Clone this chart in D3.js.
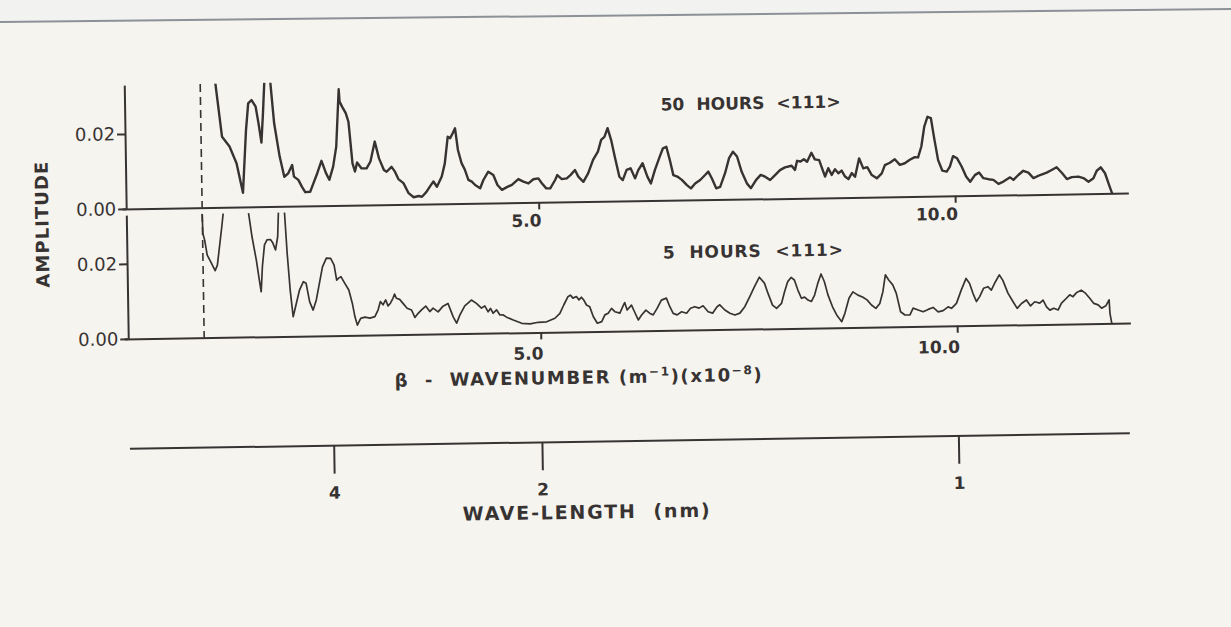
<!DOCTYPE html>
<html><head><meta charset="utf-8">
<script src="https://cdn.jsdelivr.net/npm/d3@7"></script>
<style>html,body{margin:0;padding:0;background:#f6f4ef;}svg{display:block;}</style>
</head><body>
<svg id="chart" width="1231" height="627"></svg>
<script>
// ---------- DATA ----------
// [wavenumber beta (x1e8 m^-1), amplitude]
const hours50 = [[1.108,0.040],[1.212,0.0188],[1.300,0.0162],[1.381,0.0117],[1.453,0.0038],[1.501,0.0205],[1.532,0.0276],[1.573,0.0285],[1.621,0.0267],[1.652,0.0223],[1.684,0.0171],[1.708,0.0250],[1.760,0.045],[1.840,0.0222],[1.900,0.0133],[1.952,0.0079],[2.000,0.0088],[2.048,0.0110],[2.068,0.0079],[2.120,0.0070],[2.161,0.0052],[2.200,0.0037],[2.260,0.0038],[2.300,0.0060],[2.348,0.0087],[2.401,0.0120],[2.453,0.0087],[2.492,0.0069],[2.540,0.0104],[2.581,0.0157],[2.621,0.0310],[2.629,0.0277],[2.660,0.0263],[2.701,0.0246],[2.732,0.0223],[2.773,0.0112],[2.801,0.0090],[2.828,0.0114],[2.881,0.0098],[2.941,0.0098],[2.989,0.0116],[3.044,0.0169],[3.092,0.0124],[3.149,0.0093],[3.181,0.0088],[3.241,0.0101],[3.281,0.0088],[3.321,0.0068],[3.381,0.0057],[3.441,0.0030],[3.501,0.0019],[3.561,0.0022],[3.601,0.0020],[3.653,0.0032],[3.701,0.0048],[3.741,0.0060],[3.782,0.0046],[3.842,0.0073],[3.881,0.0108],[3.921,0.0179],[3.950,0.0175],[3.981,0.0188],[4.010,0.0201],[4.041,0.0143],[4.082,0.0108],[4.121,0.0090],[4.161,0.0063],[4.202,0.0058],[4.241,0.0049],[4.301,0.0040],[4.341,0.0062],[4.401,0.0084],[4.461,0.0075],[4.509,0.0048],[4.562,0.0035],[4.622,0.0042],[4.682,0.0048],[4.761,0.0063],[4.821,0.0056],[4.881,0.0051],[4.941,0.0062],[5.001,0.0064],[5.042,0.0051],[5.094,0.0037],[5.142,0.0037],[5.202,0.0059],[5.229,0.0072],[5.282,0.0061],[5.342,0.0063],[5.390,0.0072],[5.442,0.0085],[5.481,0.0067],[5.541,0.0053],[5.601,0.0076],[5.661,0.0111],[5.721,0.0133],[5.762,0.0164],[5.802,0.0172],[5.841,0.0195],[5.882,0.0163],[5.922,0.0119],[5.974,0.0065],[6.014,0.0056],[6.062,0.0083],[6.110,0.0087],[6.162,0.0060],[6.202,0.0082],[6.255,0.0100],[6.310,0.0064],[6.351,0.0046],[6.402,0.0082],[6.462,0.0117],[6.502,0.0139],[6.543,0.0143],[6.582,0.0108],[6.622,0.0067],[6.670,0.0063],[6.723,0.0054],[6.783,0.0040],[6.831,0.0031],[6.882,0.0044],[6.943,0.0053],[7.003,0.0066],[7.042,0.0075],[7.083,0.0057],[7.134,0.0030],[7.182,0.0034],[7.243,0.0070],[7.294,0.0110],[7.342,0.0127],[7.390,0.0114],[7.443,0.0073],[7.503,0.0042],[7.551,0.0029],[7.615,0.0051],[7.671,0.0064],[7.723,0.0059],[7.783,0.0050],[7.843,0.0063],[7.903,0.0076],[7.963,0.0083],[8.043,0.0087],[8.083,0.0076],[8.110,0.0100],[8.151,0.0098],[8.191,0.0104],[8.230,0.0097],[8.283,0.0121],[8.323,0.0103],[8.375,0.0101],[8.415,0.0075],[8.443,0.0057],[8.483,0.0079],[8.523,0.0061],[8.563,0.0076],[8.603,0.0065],[8.643,0.0072],[8.683,0.0056],[8.723,0.0049],[8.764,0.0065],[8.803,0.0055],[8.855,0.0104],[8.903,0.0077],[8.951,0.0080],[9.004,0.0059],[9.064,0.0050],[9.124,0.0063],[9.163,0.0085],[9.223,0.0091],[9.283,0.0100],[9.343,0.0085],[9.403,0.0089],[9.463,0.0098],[9.524,0.0105],[9.563,0.0104],[9.604,0.0133],[9.643,0.0186],[9.683,0.0212],[9.724,0.0208],[9.763,0.0150],[9.803,0.0096],[9.851,0.0068],[9.904,0.0065],[9.943,0.0078],[9.983,0.0106],[10.031,0.0100],[10.084,0.0078],[10.136,0.0051],[10.184,0.0037],[10.244,0.0055],[10.292,0.0061],[10.343,0.0046],[10.403,0.0043],[10.463,0.0041],[10.523,0.0030],[10.583,0.0036],[10.664,0.0047],[10.703,0.0040],[10.763,0.0053],[10.823,0.0064],[10.884,0.0059],[10.944,0.0044],[11.024,0.0052],[11.104,0.0058],[11.164,0.0065],[11.224,0.0072],[11.285,0.0057],[11.345,0.0040],[11.405,0.0045],[11.484,0.0046],[11.544,0.0042],[11.604,0.0032],[11.664,0.0041],[11.705,0.0061],[11.753,0.0070],[11.804,0.0054],[11.844,0.0027],[11.885,0.0000]];

const hours5 = [[0.958,0.0340],[0.964,0.0278],[0.984,0.0260],[1.012,0.0220],[1.053,0.0202],[1.104,0.0178],[1.132,0.0193],[1.161,0.0242],[1.192,0.0295],[1.357,0.060],[1.553,0.0267],[1.600,0.0205],[1.633,0.0151],[1.653,0.0120],[1.672,0.0187],[1.701,0.0245],[1.732,0.0258],[1.773,0.0259],[1.801,0.0250],[1.833,0.0231],[1.861,0.0266],[1.909,0.050],[1.972,0.0221],[2.001,0.0124],[2.032,0.0052],[2.073,0.0088],[2.113,0.0123],[2.161,0.0145],[2.193,0.0141],[2.233,0.0091],[2.273,0.0069],[2.313,0.0096],[2.353,0.0140],[2.393,0.0184],[2.441,0.0207],[2.493,0.0206],[2.533,0.0188],[2.561,0.0148],[2.585,0.0153],[2.613,0.0157],[2.653,0.0141],[2.705,0.0121],[2.745,0.0085],[2.773,0.0050],[2.801,0.0027],[2.842,0.0045],[2.893,0.0048],[2.953,0.0045],[3.013,0.0049],[3.053,0.0067],[3.082,0.0089],[3.113,0.0080],[3.145,0.0093],[3.173,0.0077],[3.202,0.0084],[3.233,0.0097],[3.253,0.0108],[3.274,0.0097],[3.313,0.0094],[3.353,0.0083],[3.401,0.0070],[3.454,0.0065],[3.493,0.0045],[3.533,0.0056],[3.574,0.0065],[3.625,0.0075],[3.673,0.0060],[3.713,0.0069],[3.773,0.0059],[3.833,0.0074],[3.893,0.0081],[3.953,0.0045],[3.993,0.0028],[4.034,0.0050],[4.094,0.0074],[4.174,0.0089],[4.234,0.0080],[4.294,0.0067],[4.334,0.0073],[4.373,0.0057],[4.402,0.0066],[4.433,0.0053],[4.474,0.0062],[4.514,0.0048],[4.553,0.0048],[4.594,0.0042],[4.673,0.0034],[4.774,0.0025],[4.874,0.0023],[4.974,0.0027],[5.074,0.0028],[5.174,0.0037],[5.234,0.0050],[5.282,0.0072],[5.334,0.0094],[5.363,0.0098],[5.394,0.0090],[5.435,0.0094],[5.466,0.0085],[5.495,0.0092],[5.522,0.0085],[5.555,0.0071],[5.594,0.0066],[5.634,0.0040],[5.682,0.0022],[5.735,0.0026],[5.774,0.0044],[5.814,0.0048],[5.855,0.0061],[5.894,0.0052],[5.954,0.0048],[5.994,0.0067],[6.014,0.0076],[6.042,0.0056],[6.095,0.0069],[6.134,0.0049],[6.174,0.0029],[6.215,0.0042],[6.267,0.0055],[6.315,0.0046],[6.354,0.0042],[6.402,0.0059],[6.455,0.0081],[6.515,0.0086],[6.555,0.0063],[6.594,0.0045],[6.642,0.0041],[6.695,0.0049],[6.755,0.0045],[6.803,0.0058],[6.855,0.0062],[6.906,0.0058],[6.954,0.0064],[7.014,0.0048],[7.067,0.0044],[7.122,0.0061],[7.155,0.0066],[7.215,0.0052],[7.275,0.0043],[7.335,0.0038],[7.395,0.0043],[7.455,0.0060],[7.515,0.0086],[7.575,0.0113],[7.635,0.0138],[7.695,0.0122],[7.735,0.0095],[7.788,0.0063],[7.836,0.0054],[7.896,0.0067],[7.935,0.0098],[7.975,0.0125],[8.016,0.0136],[8.055,0.0129],[8.095,0.0102],[8.136,0.0080],[8.175,0.0083],[8.215,0.0075],[8.256,0.0071],[8.295,0.0088],[8.335,0.0119],[8.376,0.0144],[8.415,0.0123],[8.455,0.0088],[8.508,0.0056],[8.556,0.0034],[8.616,0.0016],[8.655,0.0038],[8.707,0.0078],[8.755,0.0095],[8.815,0.0086],[8.875,0.0080],[8.923,0.0073],[8.976,0.0059],[9.028,0.0050],[9.076,0.0063],[9.115,0.0094],[9.148,0.0139],[9.187,0.0125],[9.235,0.0112],[9.276,0.0089],[9.324,0.0040],[9.376,0.0031],[9.436,0.0031],[9.475,0.0049],[9.535,0.0044],[9.595,0.0039],[9.655,0.0045],[9.715,0.0050],[9.775,0.0038],[9.835,0.0041],[9.895,0.0051],[9.936,0.0047],[9.996,0.0060],[10.056,0.0095],[10.116,0.0126],[10.156,0.0113],[10.196,0.0086],[10.236,0.0064],[10.276,0.0077],[10.324,0.0099],[10.376,0.0103],[10.417,0.0094],[10.468,0.0116],[10.516,0.0134],[10.556,0.0120],[10.616,0.0085],[10.676,0.0062],[10.724,0.0044],[10.777,0.0057],[10.837,0.0066],[10.885,0.0050],[10.936,0.0061],[10.996,0.0057],[11.036,0.0065],[11.077,0.0047],[11.116,0.0038],[11.164,0.0043],[11.216,0.0038],[11.257,0.0056],[11.317,0.0069],[11.357,0.0078],[11.396,0.0073],[11.437,0.0083],[11.497,0.0090],[11.549,0.0081],[11.597,0.0068],[11.645,0.0054],[11.697,0.0050],[11.737,0.0041],[11.789,0.0047],[11.829,0.0063],[11.837,0.0027],[11.857,0.0000]];

const ampTicks = [0, 0.02];
const betaTicks = [5, 10];
const waveTicks = [4, 2, 1];           // nm ; beta = 10 / lambda
const dashBeta = 0.96;
const panelTitles = ["50  HOURS  <111>", "5  HOURS  <111>"];
const yLabel = "AMPLITUDE";
const xLabel = "WAVE-LENGTH  (nm)";

// ---------- LAYOUT ----------
const ink = "#383333";
const svg = d3.select("#chart");
svg.append("rect").attr("width",1231).attr("height",627).attr("fill","#f6f4ef");
svg.append("path").attr("d","M0,0H1231V9L0,22Z").attr("fill","#f2f2f1");
svg.append("line").attr("x1",0).attr("y1",22).attr("x2",1231).attr("y2",9)
  .attr("stroke","#8c9197").attr("stroke-width",2);

const g = svg.append("g").attr("transform","rotate(-0.9,628,320)");

const x = d3.scaleLinear().domain([0, 12.08]).range([124, 124 + 83.3*12.08]);
const pxPerUnit = 3750;
const yTop = d3.scaleLinear().domain([0, 0.033]).range([201, 201 - 0.033*pxPerUnit]);
const yBot = d3.scaleLinear().domain([0, 0.033]).range([331, 331 - 0.033*pxPerUnit]);
const yAxisX = 128;
const FONT = "DejaVu Sans, Liberation Sans, sans-serif";

function fit(sel, target){
  const n = sel.node();
  const w = n.getComputedTextLength();
  const c = n.textContent.length;
  if (c > 1) sel.attr("letter-spacing", (target - w)/(c - 1));
}

function panel(y, data, title, titleY, sw, labY, id){
  const pg = g.append("g");
  pg.append("clipPath").attr("id", id).append("rect")
    .attr("x", x(0)).attr("y", y(0.033)).attr("width", x(12.08)-x(0)+4).attr("height", y(0)-y(0.033)+1);

  // x axis
  const xa = pg.append("g").attr("transform", `translate(0,${y(0)})`)
    .call(d3.axisBottom(x).tickValues(betaTicks).tickFormat(d3.format(".1f")).tickSize(7).tickSizeOuter(0));
  xa.select(".domain").attr("stroke", ink).attr("stroke-width", 2);
  xa.selectAll(".tick line").attr("stroke", ink).attr("stroke-width", 2);
  xa.selectAll(".tick text").attr("text-anchor","end").attr("x", 2).attr("y", labY).attr("dy","0.71em")
    .attr("fill", ink).style("font-family",FONT).style("font-size","17px").style("font-weight","bold");

  // y axis
  const ya = pg.append("g").attr("transform", `translate(${yAxisX},0)`)
    .call(d3.axisLeft(y).tickValues(ampTicks).tickFormat(d3.format(".2f")).tickSize(8).tickPadding(2).tickSizeOuter(0));
  ya.select(".domain").attr("stroke", ink).attr("stroke-width", 2);
  ya.selectAll(".tick line").attr("stroke", ink).attr("stroke-width", 2);
  ya.selectAll(".tick text").attr("fill", ink)
    .style("font-family",FONT).style("font-size","18px");

  // dashed marker
  pg.append("line").attr("x1", x(dashBeta)).attr("x2", x(dashBeta))
    .attr("y1", y(0.033)).attr("y2", y(0))
    .attr("stroke", ink).attr("stroke-width", 1.6).attr("stroke-dasharray","8,5");

  // curve
  const line = d3.line().x(d => x(d[0])).y(d => y(d[1]));
  pg.append("path").datum(data).attr("d", line).attr("clip-path", `url(#${id})`)
    .attr("fill","none").attr("stroke", ink).attr("stroke-width", sw)
    .attr("stroke-linejoin","round").attr("stroke-linecap","round");

  // title
  const t = pg.append("text").attr("x", 664).attr("y", titleY).attr("xml:space","preserve").text(title)
    .attr("fill", ink).style("font-family",FONT)
    .style("font-size","17px").style("font-weight","bold");
  fit(t, 180);
}

panel(yTop, hours50, panelTitles[0], 111, 2.4, 12, "clipTop");
panel(yBot, hours5, panelTitles[1], 259, 1.7, 15, "clipBot");

// amplitude label
const al = g.append("text").attr("transform","translate(50,215) rotate(-90)")
  .attr("text-anchor","middle").attr("fill", ink).text(yLabel)
  .style("font-family",FONT).style("font-size","18px").style("font-weight","bold");
fit(al, 126);

// wavenumber label
const bl = g.append("text").attr("x", 578).attr("y", 383).attr("text-anchor","middle")
  .attr("fill", ink).style("font-family",FONT).style("font-size","18px").style("font-weight","bold")
  .attr("xml:space","preserve");
bl.append("tspan").text("\u03B2  -  WAVENUMBER (m");
bl.append("tspan").attr("dy",-7).style("font-size","12px").text("\u22121");
bl.append("tspan").attr("dy",7).text(")(x10");
bl.append("tspan").attr("dy",-7).style("font-size","12px").text("\u22128");
bl.append("tspan").attr("dy",7).text(")");
fit(bl, 367);

// wavelength axis
const wg = g.append("g").attr("transform","translate(0,441)");
wg.append("line").attr("x1",128).attr("x2",1128).attr("y1",0).attr("y2",0)
  .attr("stroke", ink).attr("stroke-width",2);
const wt = wg.selectAll("g.wt").data(waveTicks).join("g").attr("class","wt")
  .attr("transform", d => `translate(${x(10/d)},0)`);
wt.append("line").attr("y1",0).attr("y2",28).attr("stroke", ink).attr("stroke-width",2);
wt.append("text").attr("y",53).attr("text-anchor","middle").attr("fill", ink).text(d => d)
  .style("font-family",FONT).style("font-size","17px").style("font-weight","bold");

const wl = g.append("text").attr("x", 584).attr("y", 518).attr("text-anchor","middle")
  .attr("fill", ink).attr("xml:space","preserve").text(xLabel)
  .style("font-family",FONT).style("font-size","19px").style("font-weight","bold");
fit(wl, 247);
</script>
</body></html>
